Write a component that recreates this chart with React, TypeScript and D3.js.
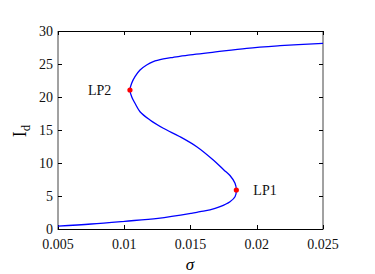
import React, { useEffect, useRef } from 'react';
import * as d3 from 'd3';

// sigma / I_d pairs (lower -> LP1 -> middle -> LP2 -> upper)
const sigmaVals = [
  0.005, 0.00751, 0.01003, 0.01255, 0.01506, 0.01572, 0.01647, 0.01723, 0.01798, 0.01836, 0.01846,
  0.01836, 0.01798, 0.01752, 0.01672, 0.01547, 0.01421, 0.01295, 0.01194, 0.01119, 0.01081, 0.01056, 0.01043,
  0.01056, 0.01081, 0.01119, 0.01169, 0.01219, 0.01295, 0.0137, 0.01483, 0.01647, 0.01924, 0.02176, 0.025,
];
const idVals = [
  0.45, 0.76, 1.17, 1.62, 2.38, 2.62, 2.88, 3.38, 4.14, 4.89, 5.91,
  6.92, 8.1, 8.94, 10.45, 12.47, 13.98, 15.26, 16.52, 17.77, 19.05, 20.05, 21.06,
  22.08, 23.08, 24.09, 24.85, 25.35, 25.76, 26.02, 26.36, 26.71, 27.38, 27.77, 28.14,
];
const limitNames = ['LP1', 'LP2'];
const limitSigma = [0.01846, 0.01043];
const limitId = [5.91, 21.06];
const xTicks = [0.005, 0.01, 0.015, 0.02, 0.025];
const xTickLabels = ['0.005', '0.01', '0.015', '0.02', '0.025'];
const yTicks = [0, 5, 10, 15, 20, 25, 30];

export default function App() {
  const ref = useRef<SVGSVGElement>(null);

  useEffect(() => {
    const svg = d3.select(ref.current);
    svg.selectAll('*').remove();

    const left = 58, right = 323, top = 31, bottom = 229;
    const x = d3.scaleLinear().domain([0.005, 0.025]).range([left, right]);
    const y = d3.scaleLinear().domain([0, 30]).range([bottom, top]);
    const font = 'Liberation Serif, serif';

    // frame
    svg.append('line').attr('x1', left).attr('x2', right).attr('y1', top + 0.5).attr('y2', top + 0.5)
      .attr('stroke', '#000');
    svg.append('line').attr('x1', left).attr('x2', right).attr('y1', bottom + 0.5).attr('y2', bottom + 0.5)
      .attr('stroke', '#000');
    svg.append('line').attr('x1', left).attr('x2', left).attr('y1', top).attr('y2', bottom + 1)
      .attr('stroke', '#444');
    svg.append('line').attr('x1', right).attr('x2', right).attr('y1', top).attr('y2', bottom + 1)
      .attr('stroke', '#444');

    const tl = 4;
    xTicks.forEach((t, i) => {
      const px = Math.round(x(t)) + 0.5;
      svg.append('line').attr('x1', px).attr('x2', px).attr('y1', bottom).attr('y2', bottom - tl).attr('stroke', '#000');
      svg.append('line').attr('x1', px).attr('x2', px).attr('y1', top).attr('y2', top + tl).attr('stroke', '#000');
      svg.append('text').attr('x', x(t)).attr('y', 249)
        .attr('text-anchor', 'middle').style('font-family', font).style('font-size', '14px')
        .attr('fill', '#111').text(xTickLabels[i]);
    });
    yTicks.forEach(t => {
      const py = Math.round(y(t)) + 0.5;
      svg.append('line').attr('x1', left).attr('x2', left + tl).attr('y1', py).attr('y2', py).attr('stroke', '#000');
      svg.append('line').attr('x1', right).attr('x2', right - tl).attr('y1', py).attr('y2', py).attr('stroke', '#000');
      svg.append('text').attr('x', 53).attr('y', y(t) + 4.5)
        .attr('text-anchor', 'end').style('font-family', font).style('font-size', '14px')
        .attr('fill', '#111').text(String(t));
    });

    // axis titles
    svg.append('text').attr('x', 190).attr('y', 270)
      .attr('text-anchor', 'middle').style('font-family', font).style('font-size', '17px')
      .style('font-style', 'italic').text('σ');
    const yl = svg.append('text').attr('transform', 'translate(26,131) rotate(-90)')
      .attr('text-anchor', 'middle').style('font-family', font).style('font-size', '18px');
    yl.append('tspan').text('I');
    yl.append('tspan').style('font-size', '13px').attr('dy', 4).text('d');

    // curve
    const pts = sigmaVals.map((s, i) => [s, idVals[i]] as [number, number]);
    const line = d3.line<[number, number]>()
      .x(d => x(d[0])).y(d => y(d[1]))
      .curve(d3.curveCatmullRom.alpha(0.5));
    svg.append('path').attr('d', line(pts)).attr('fill', 'none')
      .attr('stroke', '#0000ff').attr('stroke-width', 1.3);

    // limit points
    limitNames.forEach((n, i) => {
      svg.append('circle').attr('cx', x(limitSigma[i])).attr('cy', y(limitId[i])).attr('r', 2.6)
        .attr('fill', '#ff0000');
      const lx = i === 0 ? x(limitSigma[i]) + 17 : x(limitSigma[i]) - 42;
      svg.append('text').attr('x', lx).attr('y', y(limitId[i]) + 5)
        .style('font-family', font).style('font-size', '14px').attr('fill', '#111').text(n);
    });
  }, []);

  return (
    <svg ref={ref} width={375} height={274}
      style={{ position: 'absolute', left: 0, top: 0, background: '#fff' }} />
  );
}
